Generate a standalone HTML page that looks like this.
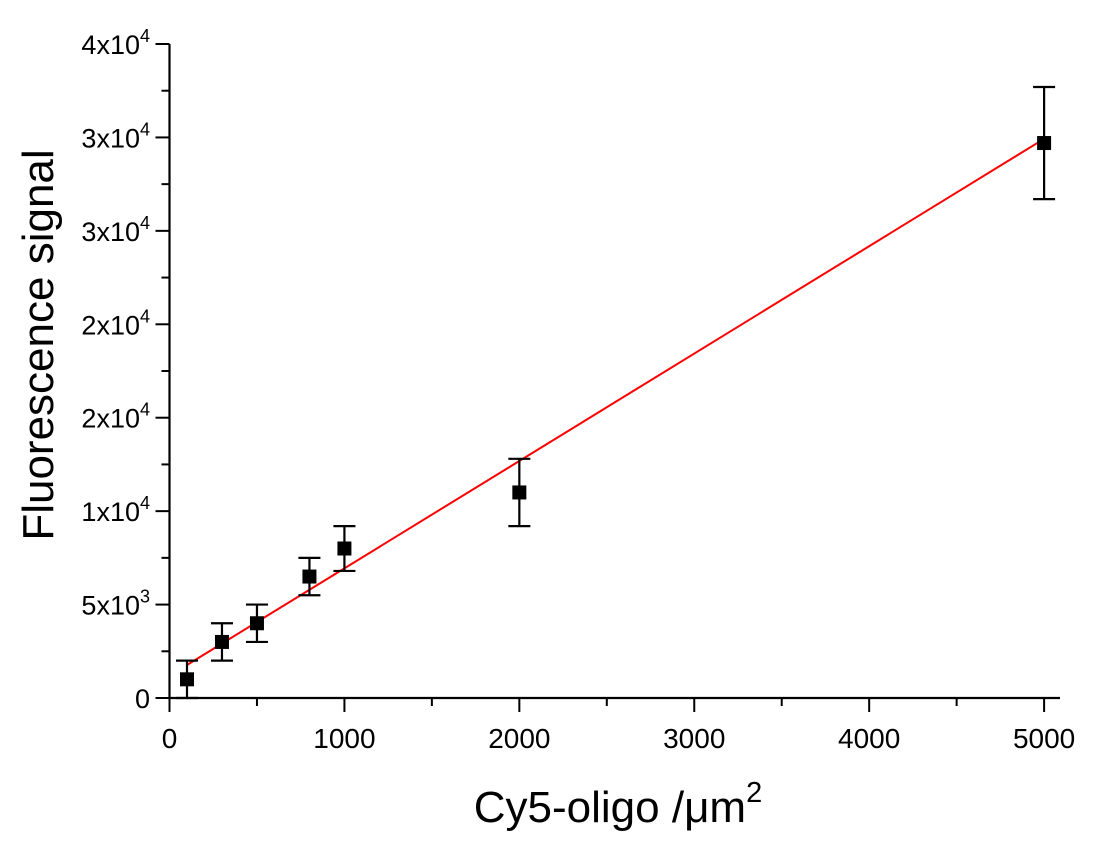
<!DOCTYPE html>
<html><head><meta charset="utf-8"><style>
body{margin:0;background:#fff}
svg text{font-family:"Liberation Sans",sans-serif;fill:#000}
</style></head><body>
<svg id="chart" width="1094" height="848" xmlns="http://www.w3.org/2000/svg"></svg>
<script>
const xValues=[100,300,500,800,1000,2000,5000];
const yValues=[1000,3000,4000,6500,8000,11000,29700];
const yErrors=[1000,1000,1000,1000,1200,1800,3000];
const fitSlope=5.747, fitIntercept=1192;
const xTicks=[0,1000,2000,3000,4000,5000];
const yTicks=[0,5000,10000,15000,20000,25000,30000,35000];
const yTickMant=["0","5x10","1x10","2x10","2x10","3x10","3x10","4x10"];
const yTickExp=["","3","4","4","4","4","4","4"];
const NS="http://www.w3.org/2000/svg";
const svg=document.getElementById('chart');
const X=v=>169.5+v*0.17492;
const Y=v=>698-v*(654/35000);
function mk(t,a,p){const e=document.createElementNS(NS,t);for(const k in a)e.setAttribute(k,a[k]);(p||svg).appendChild(e);return e;}
let ax=mk('path',{d:`M${X(0)} 44 V698 H1060`,stroke:'#000','stroke-width':2.2,fill:'none'});


for(let v=0;v<=5000;v+=500){const maj=v%1000===0;let t=mk('line',{x1:X(v),x2:X(v),y1:698,y2:698+(maj?14:8),stroke:'#000','stroke-width':2});

}
for(let v=0;v<=35000;v+=2500){const maj=v%5000===0;let t=mk('line',{x1:X(0)-(maj?14:8),x2:X(0),y1:Y(v),y2:Y(v),stroke:'#000','stroke-width':2});

}
xTicks.forEach(v=>{let t=mk('text',{x:X(v),y:748,'font-size':28,'text-anchor':'middle'});t.textContent=v;

});
yTicks.forEach((v,i)=>{let t=mk('text',{x:150,y:Y(v)+10,'font-size':27,'text-anchor':'end'});


if(yTickExp[i]){t.textContent=yTickMant[i];let s=mk('tspan',{dy:-12,'font-size':18},t);s.textContent=yTickExp[i];}else t.textContent=yTickMant[i];});
let fit=mk('line',{x1:X(xValues[0]),y1:Y(fitIntercept+fitSlope*xValues[0]),x2:X(xValues[xValues.length-1]),y2:Y(fitIntercept+fitSlope*xValues[xValues.length-1]),stroke:'#f00','stroke-width':2});


xValues.forEach((xv,i)=>{const cx=X(xv),t=Y(yValues[i]+yErrors[i]),b=Y(yValues[i]-yErrors[i]);
let e=mk('path',{d:`M${cx} ${t}V${b}M${cx-11} ${t}H${cx+11}M${cx-11} ${b}H${cx+11}`,stroke:'#000','stroke-width':2.2,fill:'none'});


let p=mk('rect',{x:cx-7,y:Y(yValues[i])-7,width:14,height:14,fill:'#000'});

});
let xt=mk('text',{x:618,y:822,'font-size':44,'text-anchor':'middle'});


xt.textContent='Cy5-oligo /μm';let sp=mk('tspan',{dy:-20,'font-size':29},xt);sp.textContent='2';
let yt=mk('text',{x:0,y:0,'font-size':44,'text-anchor':'middle',transform:'translate(53,345) rotate(-90)'});


yt.textContent='Fluorescence signal';
</script>
</body></html>
